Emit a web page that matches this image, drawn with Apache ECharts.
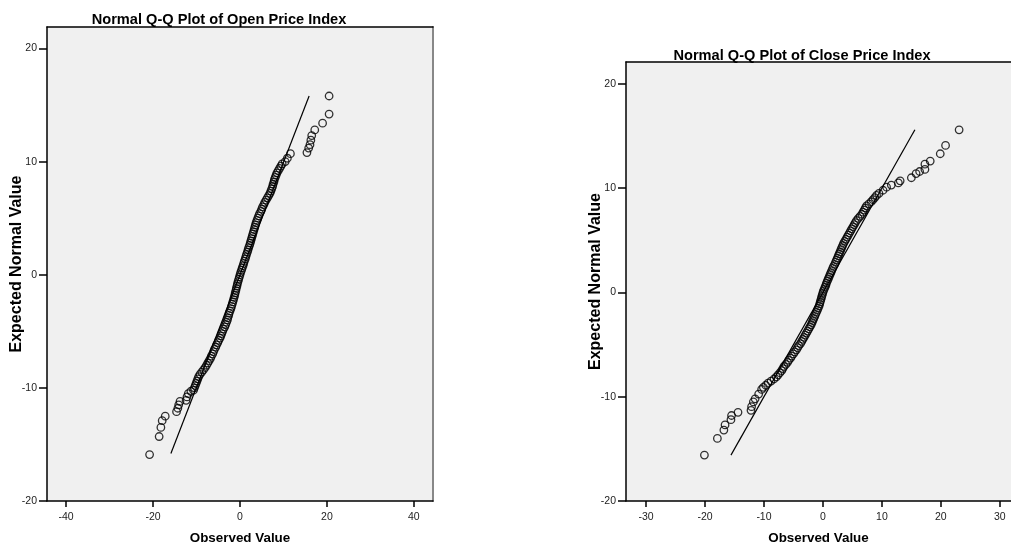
<!DOCTYPE html>
<html>
<head>
<meta charset="utf-8">
<script src="https://cdn.jsdelivr.net/npm/echarts@6/dist/echarts.min.js"></script>
<style>
  html, body { margin: 0; padding: 0; background: #fff; }
  #chart { width: 1011px; height: 550px; }
</style>
</head>
<body>
<div id="chart"></div>
<script>
// Open price index: observed (x) vs expected normal (y)
var openObserved = [
  -20.8, -18.6, -18.2, -17.9, -17.2, -14.6, -14.3, -14.1, -13.8, -12.4, -12.2, -11.9, -11.3, -10.7, -10.5, -10.3,
  -10.1, -9.9, -9.7, -9.5, -9.2, -8.8, -8.4, -8.0, -7.7, -7.4, -7.1, -6.8, -6.6, -6.3, -6.1, -5.9, -5.6, -5.4,
  -5.1, -4.9, -4.6, -4.4, -4.2, -4.0, -3.8, -3.5, -3.3, -3.1, -2.9, -2.8, -2.6, -2.5, -2.3, -2.1, -1.95, -1.8,
  -1.65, -1.5, -1.35, -1.2, -1.1, -0.95, -0.85, -0.7, -0.6, -0.45, -0.3, -0.15, 0.0, 0.15, 0.35, 0.5, 0.7, 0.85,
  1.0, 1.2, 1.35, 1.5, 1.7, 1.85, 2.0, 2.2, 2.35, 2.5, 2.65, 2.8, 2.95, 3.1, 3.25, 3.4, 3.55, 3.7, 3.9, 4.1,
  4.3, 4.5, 4.8, 5.0, 5.2, 5.5, 5.7, 6.0, 6.3, 6.6, 6.9, 7.1, 7.3, 7.5, 7.6, 7.8, 7.9, 8.1, 8.3, 8.5, 8.8,
  9.1, 9.4, 9.7, 10.4, 10.9, 11.6, 15.4, 15.8, 16.1, 16.3, 16.5, 17.2, 19.0, 20.5, 20.5
];
var openExpected = [
  -15.9, -14.3, -13.5, -12.9, -12.5, -12.1, -11.8, -11.5, -11.2, -11.1, -10.8, -10.5, -10.3, -10.2, -10.0, -9.8,
  -9.6, -9.4, -9.2, -9.0, -8.8, -8.6, -8.4, -8.2, -8.0, -7.8, -7.6, -7.4, -7.2, -7.0, -6.8, -6.6, -6.4, -6.2,
  -6.0, -5.8, -5.6, -5.4, -5.2, -5.0, -4.8, -4.6, -4.4, -4.2, -4.0, -3.8, -3.6, -3.4, -3.2, -3.0, -2.8, -2.6,
  -2.4, -2.2, -2.0, -1.8, -1.6, -1.4, -1.2, -1.0, -0.8, -0.6, -0.4, -0.2, 0.0, 0.2, 0.4, 0.6, 0.8, 1.0,
  1.2, 1.4, 1.6, 1.8, 2.0, 2.2, 2.4, 2.6, 2.8, 3.0, 3.2, 3.4, 3.6, 3.8, 4.0, 4.2, 4.4, 4.6, 4.8, 5.0,
  5.2, 5.4, 5.6, 5.8, 6.0, 6.2, 6.4, 6.6, 6.8, 7.0, 7.2, 7.4, 7.6, 7.8, 8.0, 8.2, 8.4, 8.6, 8.8, 9.0, 9.2,
  9.4, 9.6, 9.8, 10.0, 10.3, 10.7, 10.8, 11.2, 11.5, 11.9, 12.3, 12.8, 13.4, 14.2, 15.8
];
var openLineX = [-15.9, 15.9];
var openLineY = [-15.8, 15.8];

// Close price index
var closeObserved = [
  -20.1, -17.9, -16.8, -16.6, -15.6, -15.5, -14.4, -12.2, -12.1, -11.8, -11.5, -10.9, -10.4,
  -10.1, -9.7, -9.3, -8.8, -8.3, -7.9, -7.6, -7.3, -7.0, -6.8, -6.6, -6.3, -6.0, -5.8, -5.5, -5.3, -5.0,
  -4.8, -4.5, -4.3, -4.1, -3.8, -3.6, -3.4, -3.2, -3.0, -2.8, -2.6, -2.4, -2.2, -2.0, -1.85, -1.7, -1.55,
  -1.4, -1.25, -1.1, -0.95, -0.8, -0.65, -0.55, -0.45, -0.35, -0.25, -0.15, -0.05, 0.05, 0.2, 0.35, 0.5,
  0.6, 0.75, 0.9, 1.05, 1.2, 1.35, 1.5, 1.65, 1.8, 2.0, 2.15, 2.3, 2.45, 2.6, 2.75, 2.9, 3.05, 3.2, 3.35,
  3.5, 3.7, 3.9, 4.1, 4.3, 4.5, 4.7, 4.9, 5.1, 5.3, 5.5, 5.7, 6.0, 6.3, 6.6, 6.8, 7.0, 7.2, 7.4, 7.8, 8.2,
  8.5, 8.8, 9.1, 9.5, 10.2, 10.8, 11.6, 12.8, 13.1, 15.0, 15.8, 16.4, 17.3, 17.3, 18.2, 19.9, 20.8, 23.1
];
var closeExpected = [
  -15.6, -14.0, -13.2, -12.7, -12.2, -11.8, -11.5, -11.3, -10.95, -10.5, -10.2, -9.75, -9.3,
  -9.1, -8.9, -8.7, -8.5, -8.3, -8.1, -7.9, -7.7, -7.5, -7.3, -7.1, -6.9, -6.7, -6.5, -6.3, -6.1, -5.9,
  -5.7, -5.5, -5.3, -5.1, -4.9, -4.7, -4.5, -4.3, -4.1, -3.9, -3.7, -3.5, -3.3, -3.1, -2.9, -2.7, -2.5,
  -2.3, -2.1, -1.9, -1.7, -1.5, -1.3, -1.1, -0.9, -0.7, -0.5, -0.3, -0.1, 0.1, 0.3, 0.5, 0.7,
  0.9, 1.1, 1.3, 1.5, 1.7, 1.9, 2.1, 2.3, 2.5, 2.7, 2.9, 3.1, 3.3, 3.5, 3.7, 3.9, 4.1, 4.3, 4.5,
  4.7, 4.9, 5.1, 5.3, 5.5, 5.7, 5.9, 6.1, 6.3, 6.5, 6.7, 6.9, 7.1, 7.3, 7.5, 7.7, 7.9, 8.1, 8.3, 8.5, 8.7,
  8.9, 9.1, 9.3, 9.5, 9.8, 10.1, 10.3, 10.5, 10.7, 11.0, 11.4, 11.6, 11.8, 12.3, 12.6, 13.3, 14.1, 15.6
];
var closeLineX = [-15.6, 15.6];
var closeLineY = [-15.6, 15.6];

var openTicksX = [-40, -20, 0, 20, 40];
var closeTicksX = [-30, -20, -10, 0, 10, 20, 30];
var ticksY = [-20, -10, 0, 10, 20];

function pairs(xs, ys) {
  var out = [];
  for (var i = 0; i < xs.length; i++) out.push([xs[i], ys[i]]);
  return out;
}

var font = 'Liberation Sans, Arial, sans-serif';

function xAxisFor(idx, min, max, ticks) {
  return {
    type: 'value', gridIndex: idx, min: min, max: max,
    name: 'Observed Value', nameLocation: 'middle', nameGap: 31,
    nameTextStyle: { fontFamily: font, fontWeight: 'bold', fontSize: 13.4, color: '#000' },
    axisLine: { show: true, onZero: false, lineStyle: { color: '#000', width: 1.5 } },
    axisTick: { show: true, length: 6, customValues: ticks, lineStyle: { color: '#000', width: 1.5 } },
    axisLabel: { customValues: ticks, fontFamily: font, fontSize: 10.5, color: '#222', margin: 11 },
    splitLine: { show: false }
  };
}

function yAxisFor(idx, min, max) {
  return {
    type: 'value', gridIndex: idx, min: min, max: max,
    name: 'Expected Normal Value', nameLocation: 'middle', nameGap: 22, nameMoveOverlap: false,
    nameTextStyle: { fontFamily: font, fontWeight: 'bold', fontSize: 16, color: '#000' },
    axisLine: { show: true, onZero: false, lineStyle: { color: '#000', width: 1.5 } },
    axisTick: { show: true, length: 8, customValues: ticksY, lineStyle: { color: '#000', width: 1.5 } },
    axisLabel: { customValues: ticksY, fontFamily: font, fontSize: 10.5, color: '#222', margin: 10 },
    splitLine: { show: false }
  };
}

// plain border lines (no ticks, no labels)
function borderAxis(idx, pos, min, max, color, width) {
  return {
    type: 'value', gridIndex: idx, position: pos, min: min, max: max,
    axisLine: { show: true, onZero: false, lineStyle: { color: color, width: width } },
    axisTick: { show: false }, axisLabel: { show: false }, splitLine: { show: false }
  };
}

var chartDom = document.getElementById('chart');
var myChart = echarts.init(chartDom, null, { renderer: 'canvas' });
var option;

option = {
  animation: false,
  backgroundColor: '#fff',
  title: [
    {
      text: 'Normal Q-Q Plot of Open Price Index', left: 214, top: 7, textAlign: 'center',
      textStyle: { fontFamily: font, fontWeight: 'bold', fontSize: 14.6, color: '#000' }
    },
    {
      text: 'Normal Q-Q Plot of Close Price Index', left: 797, top: 43, textAlign: 'center',
      textStyle: { fontFamily: font, fontWeight: 'bold', fontSize: 14.6, color: '#000' }
    }
  ],
  grid: [
    { left: 47, top: 27, width: 386, height: 474, show: true, backgroundColor: '#f0f0f0', borderWidth: 0 },
    { left: 626, top: 62, width: 385, height: 442, show: true, backgroundColor: '#f0f0f0', borderWidth: 0 }
  ],
  xAxis: [
    xAxisFor(0, -44.4, 44.4, openTicksX),
    xAxisFor(1, -33.4, 31.9, closeTicksX),
    borderAxis(0, 'top', -44.4, 44.4, '#000', 1.5),
    borderAxis(1, 'top', -33.4, 31.9, '#000', 1.5)
  ],
  yAxis: [
    yAxisFor(0, -20, 21.9),
    yAxisFor(1, -20, 22.1),
    borderAxis(0, 'right', -20, 21.9, '#888', 2)
  ],
  series: [
    {
      type: 'scatter', xAxisIndex: 0, yAxisIndex: 0,
      data: pairs(openObserved, openExpected),
      symbol: 'circle', symbolSize: 7.5,
      itemStyle: { color: 'rgba(0,0,0,0)', borderColor: '#000', borderWidth: 1.3 }
    },
    {
      type: 'line', xAxisIndex: 0, yAxisIndex: 0,
      data: pairs(openLineX, openLineY),
      showSymbol: false, lineStyle: { color: '#000', width: 1.2 }
    },
    {
      type: 'scatter', xAxisIndex: 1, yAxisIndex: 1,
      data: pairs(closeObserved, closeExpected),
      symbol: 'circle', symbolSize: 7.5,
      itemStyle: { color: 'rgba(0,0,0,0)', borderColor: '#000', borderWidth: 1.3 }
    },
    {
      type: 'line', xAxisIndex: 1, yAxisIndex: 1,
      data: pairs(closeLineX, closeLineY),
      showSymbol: false, lineStyle: { color: '#000', width: 1.2 }
    }
  ]
};

option && myChart.setOption(option);
</script>
</body>
</html>
